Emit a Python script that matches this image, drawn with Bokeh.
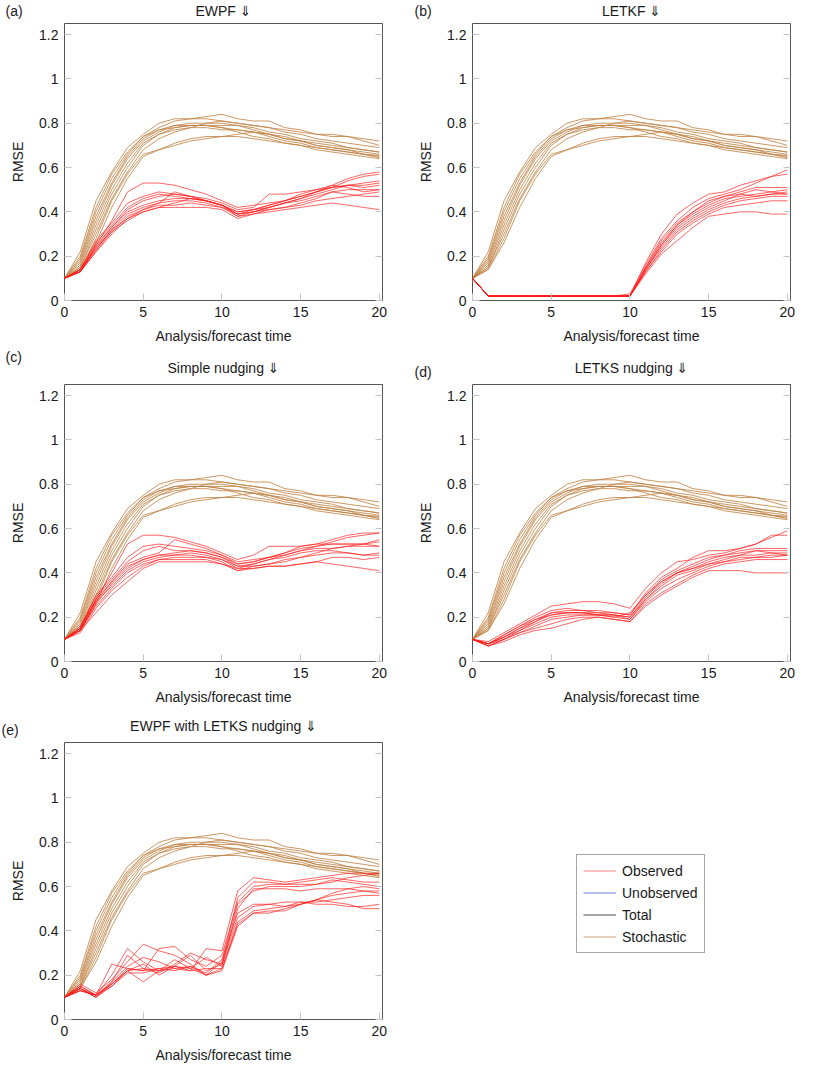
from bokeh.plotting import figure
from bokeh.layouts import column, row
from bokeh.models import FixedTicker, NumeralTickFormatter, LinearAxis, Title, Legend, LegendItem, Spacer
from bokeh.embed import file_html
from bokeh.resources import INLINE

TIME = list(range(21))
X_TICKS = [0, 5, 10, 15, 20]
Y_TICKS = [0, 0.2, 0.4, 0.6, 0.8, 1.0, 1.2]
PANEL_LABELS = ["(a)", "(b)", "(c)", "(d)", "(e)"]
PANEL_TITLES = ["EWPF \u21d3", "LETKF \u21d3", "Simple nudging \u21d3", "LETKS nudging \u21d3",
                "EWPF with LETKS nudging \u21d3"]
LEGEND_LABELS = ["Observed", "Unobserved", "Total", "Stochastic"]
X_LABEL = "Analysis/forecast time"
Y_LABEL = "RMSE"

# Stochastic (brown) runs, identical in every panel
STOCHASTIC = [
    [0.10, 0.22, 0.45, 0.58, 0.69, 0.75, 0.80, 0.82, 0.82, 0.82, 0.81, 0.80, 0.79, 0.78, 0.77, 0.76, 0.75, 0.75, 0.74, 0.73, 0.72],
    [0.10, 0.20, 0.42, 0.57, 0.67, 0.74, 0.78, 0.81, 0.82, 0.83, 0.84, 0.82, 0.81, 0.81, 0.78, 0.77, 0.75, 0.74, 0.74, 0.72, 0.70],
    [0.10, 0.19, 0.40, 0.55, 0.66, 0.74, 0.77, 0.79, 0.80, 0.80, 0.80, 0.79, 0.78, 0.76, 0.75, 0.73, 0.72, 0.71, 0.69, 0.68, 0.67],
    [0.10, 0.18, 0.38, 0.53, 0.65, 0.73, 0.77, 0.78, 0.79, 0.79, 0.79, 0.79, 0.77, 0.75, 0.73, 0.72, 0.70, 0.69, 0.68, 0.67, 0.66],
    [0.10, 0.17, 0.36, 0.52, 0.64, 0.72, 0.76, 0.79, 0.79, 0.79, 0.78, 0.77, 0.76, 0.74, 0.72, 0.71, 0.69, 0.68, 0.67, 0.66, 0.65],
    [0.10, 0.16, 0.34, 0.50, 0.62, 0.71, 0.75, 0.78, 0.79, 0.79, 0.78, 0.76, 0.74, 0.73, 0.71, 0.70, 0.68, 0.67, 0.66, 0.65, 0.64],
    [0.10, 0.15, 0.32, 0.48, 0.60, 0.70, 0.75, 0.77, 0.78, 0.78, 0.77, 0.77, 0.76, 0.75, 0.74, 0.72, 0.71, 0.70, 0.69, 0.68, 0.67],
    [0.10, 0.15, 0.30, 0.46, 0.58, 0.68, 0.73, 0.76, 0.78, 0.80, 0.81, 0.80, 0.79, 0.78, 0.76, 0.75, 0.73, 0.72, 0.71, 0.70, 0.69],
    [0.10, 0.14, 0.28, 0.45, 0.57, 0.66, 0.68, 0.71, 0.73, 0.74, 0.74, 0.75, 0.76, 0.75, 0.73, 0.72, 0.70, 0.69, 0.68, 0.66, 0.645],
    [0.10, 0.14, 0.26, 0.42, 0.55, 0.65, 0.68, 0.70, 0.72, 0.73, 0.74, 0.74, 0.73, 0.72, 0.71, 0.70, 0.69, 0.68, 0.67, 0.66, 0.655],
]

# Observed (red) runs per panel
EWPF_OBS = [
    [0.10, 0.13, 0.25, 0.36, 0.49, 0.53, 0.53, 0.52, 0.50, 0.48, 0.45, 0.42, 0.43, 0.44, 0.45, 0.47, 0.49, 0.52, 0.55, 0.57, 0.58],
    [0.10, 0.14, 0.27, 0.35, 0.44, 0.47, 0.49, 0.48, 0.47, 0.46, 0.44, 0.41, 0.42, 0.48, 0.48, 0.49, 0.50, 0.51, 0.52, 0.53, 0.54],
    [0.10, 0.14, 0.26, 0.34, 0.42, 0.46, 0.48, 0.47, 0.46, 0.45, 0.43, 0.40, 0.41, 0.43, 0.45, 0.47, 0.49, 0.51, 0.54, 0.56, 0.57],
    [0.10, 0.13, 0.25, 0.33, 0.41, 0.45, 0.47, 0.48, 0.47, 0.45, 0.43, 0.39, 0.40, 0.42, 0.44, 0.46, 0.48, 0.50, 0.52, 0.52, 0.53],
    [0.10, 0.13, 0.24, 0.33, 0.40, 0.43, 0.45, 0.46, 0.46, 0.45, 0.43, 0.40, 0.41, 0.42, 0.44, 0.45, 0.47, 0.49, 0.50, 0.50, 0.50],
    [0.10, 0.13, 0.23, 0.32, 0.39, 0.42, 0.44, 0.49, 0.47, 0.45, 0.43, 0.38, 0.40, 0.42, 0.44, 0.46, 0.49, 0.51, 0.52, 0.51, 0.52],
    [0.10, 0.14, 0.24, 0.31, 0.38, 0.41, 0.44, 0.45, 0.45, 0.44, 0.42, 0.39, 0.40, 0.41, 0.42, 0.44, 0.46, 0.49, 0.48, 0.47, 0.47],
    [0.10, 0.13, 0.22, 0.30, 0.37, 0.41, 0.43, 0.43, 0.44, 0.43, 0.42, 0.38, 0.39, 0.41, 0.42, 0.43, 0.45, 0.46, 0.47, 0.48, 0.49],
    [0.10, 0.13, 0.22, 0.31, 0.36, 0.40, 0.42, 0.44, 0.46, 0.45, 0.43, 0.39, 0.41, 0.43, 0.45, 0.48, 0.50, 0.52, 0.51, 0.49, 0.50],
    [0.10, 0.14, 0.23, 0.32, 0.37, 0.40, 0.42, 0.42, 0.42, 0.42, 0.41, 0.37, 0.39, 0.40, 0.41, 0.42, 0.43, 0.44, 0.43, 0.42, 0.41],
]

LETKF_OBS = [
    [0.10, 0.02, 0.02, 0.02, 0.02, 0.02, 0.02, 0.02, 0.02, 0.02, 0.02, 0.17, 0.30, 0.39, 0.44, 0.48, 0.49, 0.52, 0.54, 0.56, 0.57],
    [0.10, 0.02, 0.02, 0.02, 0.02, 0.02, 0.02, 0.02, 0.02, 0.02, 0.03, 0.16, 0.28, 0.36, 0.42, 0.46, 0.48, 0.50, 0.53, 0.56, 0.59],
    [0.10, 0.02, 0.02, 0.02, 0.02, 0.02, 0.02, 0.02, 0.02, 0.02, 0.02, 0.15, 0.27, 0.35, 0.40, 0.44, 0.47, 0.49, 0.51, 0.51, 0.51],
    [0.10, 0.02, 0.02, 0.02, 0.02, 0.02, 0.02, 0.02, 0.02, 0.02, 0.02, 0.15, 0.26, 0.34, 0.39, 0.43, 0.46, 0.47, 0.48, 0.49, 0.50],
    [0.10, 0.02, 0.02, 0.02, 0.02, 0.02, 0.02, 0.02, 0.02, 0.02, 0.02, 0.14, 0.25, 0.33, 0.38, 0.42, 0.45, 0.48, 0.50, 0.49, 0.48],
    [0.10, 0.02, 0.02, 0.02, 0.02, 0.02, 0.02, 0.02, 0.02, 0.02, 0.02, 0.14, 0.24, 0.32, 0.37, 0.41, 0.44, 0.46, 0.47, 0.48, 0.48],
    [0.10, 0.02, 0.02, 0.02, 0.02, 0.02, 0.02, 0.02, 0.02, 0.02, 0.02, 0.13, 0.23, 0.31, 0.36, 0.40, 0.43, 0.45, 0.46, 0.47, 0.47],
    [0.10, 0.02, 0.02, 0.02, 0.02, 0.02, 0.02, 0.02, 0.02, 0.02, 0.02, 0.13, 0.22, 0.30, 0.35, 0.39, 0.42, 0.43, 0.44, 0.45, 0.45],
    [0.10, 0.02, 0.02, 0.02, 0.02, 0.02, 0.02, 0.02, 0.02, 0.02, 0.02, 0.12, 0.21, 0.27, 0.33, 0.38, 0.39, 0.40, 0.40, 0.39, 0.39],
    [0.10, 0.02, 0.02, 0.02, 0.02, 0.02, 0.02, 0.02, 0.02, 0.02, 0.02, 0.14, 0.25, 0.34, 0.40, 0.45, 0.47, 0.48, 0.47, 0.48, 0.49],
]

SIMPLE_OBS = [
    [0.10, 0.15, 0.28, 0.40, 0.53, 0.57, 0.57, 0.56, 0.54, 0.52, 0.49, 0.46, 0.48, 0.52, 0.52, 0.52, 0.53, 0.53, 0.53, 0.53, 0.54],
    [0.10, 0.15, 0.30, 0.38, 0.47, 0.52, 0.53, 0.52, 0.51, 0.50, 0.48, 0.45, 0.46, 0.47, 0.48, 0.50, 0.52, 0.54, 0.56, 0.57, 0.58],
    [0.10, 0.16, 0.29, 0.37, 0.45, 0.50, 0.52, 0.50, 0.50, 0.49, 0.47, 0.44, 0.45, 0.47, 0.49, 0.51, 0.52, 0.53, 0.53, 0.53, 0.52],
    [0.10, 0.14, 0.27, 0.36, 0.44, 0.47, 0.49, 0.55, 0.53, 0.51, 0.48, 0.44, 0.45, 0.47, 0.49, 0.52, 0.53, 0.55, 0.57, 0.58, 0.58],
    [0.10, 0.15, 0.28, 0.36, 0.43, 0.46, 0.48, 0.49, 0.50, 0.49, 0.47, 0.43, 0.44, 0.46, 0.48, 0.50, 0.51, 0.51, 0.52, 0.52, 0.52],
    [0.10, 0.14, 0.26, 0.35, 0.42, 0.46, 0.48, 0.48, 0.49, 0.48, 0.46, 0.42, 0.44, 0.46, 0.47, 0.49, 0.50, 0.50, 0.49, 0.48, 0.49],
    [0.10, 0.15, 0.27, 0.34, 0.41, 0.45, 0.47, 0.48, 0.48, 0.47, 0.46, 0.43, 0.43, 0.44, 0.45, 0.47, 0.49, 0.51, 0.52, 0.53, 0.55],
    [0.10, 0.14, 0.25, 0.33, 0.40, 0.44, 0.46, 0.47, 0.47, 0.47, 0.45, 0.41, 0.43, 0.44, 0.46, 0.47, 0.48, 0.49, 0.49, 0.48, 0.48],
    [0.10, 0.13, 0.24, 0.32, 0.38, 0.43, 0.46, 0.46, 0.46, 0.46, 0.44, 0.42, 0.42, 0.43, 0.43, 0.44, 0.45, 0.47, 0.47, 0.46, 0.47],
    [0.10, 0.14, 0.22, 0.30, 0.36, 0.42, 0.45, 0.45, 0.45, 0.45, 0.44, 0.41, 0.42, 0.43, 0.43, 0.44, 0.45, 0.44, 0.43, 0.42, 0.41],
]

LETKS_OBS = [
    [0.10, 0.09, 0.13, 0.17, 0.21, 0.25, 0.26, 0.27, 0.27, 0.26, 0.24, 0.33, 0.40, 0.45, 0.46, 0.48, 0.49, 0.51, 0.53, 0.56, 0.59],
    [0.10, 0.08, 0.12, 0.16, 0.20, 0.23, 0.24, 0.23, 0.23, 0.22, 0.21, 0.31, 0.38, 0.42, 0.47, 0.50, 0.50, 0.51, 0.53, 0.57, 0.57],
    [0.10, 0.08, 0.12, 0.16, 0.19, 0.22, 0.23, 0.23, 0.22, 0.22, 0.21, 0.30, 0.37, 0.41, 0.44, 0.47, 0.48, 0.50, 0.51, 0.51, 0.51],
    [0.10, 0.08, 0.11, 0.15, 0.19, 0.21, 0.22, 0.22, 0.22, 0.21, 0.20, 0.29, 0.36, 0.40, 0.43, 0.46, 0.48, 0.49, 0.50, 0.50, 0.50],
    [0.10, 0.08, 0.11, 0.14, 0.18, 0.21, 0.22, 0.22, 0.21, 0.21, 0.20, 0.28, 0.35, 0.40, 0.42, 0.45, 0.47, 0.48, 0.50, 0.49, 0.49],
    [0.10, 0.07, 0.10, 0.14, 0.17, 0.20, 0.21, 0.21, 0.21, 0.21, 0.19, 0.28, 0.34, 0.39, 0.41, 0.44, 0.45, 0.47, 0.47, 0.48, 0.48],
    [0.10, 0.07, 0.10, 0.13, 0.16, 0.19, 0.20, 0.21, 0.21, 0.20, 0.19, 0.27, 0.33, 0.37, 0.40, 0.43, 0.45, 0.46, 0.47, 0.47, 0.48],
    [0.10, 0.08, 0.10, 0.13, 0.15, 0.17, 0.19, 0.20, 0.20, 0.19, 0.18, 0.26, 0.31, 0.35, 0.39, 0.42, 0.44, 0.45, 0.46, 0.46, 0.46],
    [0.10, 0.07, 0.09, 0.12, 0.14, 0.15, 0.17, 0.19, 0.20, 0.19, 0.18, 0.25, 0.30, 0.34, 0.38, 0.41, 0.41, 0.41, 0.40, 0.40, 0.40],
    [0.10, 0.08, 0.11, 0.15, 0.18, 0.22, 0.22, 0.22, 0.21, 0.20, 0.22, 0.30, 0.36, 0.40, 0.42, 0.44, 0.46, 0.48, 0.48, 0.49, 0.48],
]

EWPF_LETKS_OBS = [
    [0.10, 0.15, 0.11, 0.20, 0.32, 0.26, 0.22, 0.24, 0.22, 0.32, 0.31, 0.58, 0.64, 0.63, 0.62, 0.63, 0.64, 0.65, 0.66, 0.66, 0.66],
    [0.10, 0.16, 0.12, 0.18, 0.26, 0.34, 0.31, 0.29, 0.25, 0.20, 0.26, 0.55, 0.62, 0.62, 0.61, 0.62, 0.63, 0.64, 0.63, 0.62, 0.62],
    [0.10, 0.14, 0.11, 0.25, 0.23, 0.22, 0.32, 0.33, 0.27, 0.24, 0.29, 0.53, 0.60, 0.61, 0.61, 0.61, 0.61, 0.63, 0.62, 0.61, 0.60],
    [0.10, 0.14, 0.10, 0.17, 0.29, 0.23, 0.21, 0.25, 0.30, 0.27, 0.25, 0.52, 0.58, 0.60, 0.60, 0.60, 0.61, 0.62, 0.64, 0.65, 0.66],
    [0.10, 0.13, 0.11, 0.16, 0.22, 0.17, 0.22, 0.27, 0.23, 0.28, 0.24, 0.50, 0.59, 0.59, 0.59, 0.58, 0.59, 0.59, 0.59, 0.58, 0.57],
    [0.10, 0.15, 0.11, 0.17, 0.24, 0.28, 0.26, 0.23, 0.24, 0.21, 0.27, 0.48, 0.52, 0.52, 0.51, 0.52, 0.54, 0.57, 0.59, 0.60, 0.59],
    [0.10, 0.14, 0.10, 0.16, 0.22, 0.25, 0.20, 0.24, 0.29, 0.22, 0.25, 0.46, 0.51, 0.52, 0.53, 0.53, 0.53, 0.54, 0.55, 0.56, 0.56],
    [0.10, 0.13, 0.11, 0.15, 0.21, 0.21, 0.23, 0.22, 0.24, 0.20, 0.23, 0.44, 0.49, 0.50, 0.51, 0.53, 0.52, 0.52, 0.51, 0.51, 0.52],
    [0.10, 0.14, 0.10, 0.15, 0.22, 0.23, 0.22, 0.23, 0.22, 0.23, 0.23, 0.43, 0.48, 0.49, 0.49, 0.52, 0.54, 0.53, 0.52, 0.50, 0.50],
    [0.10, 0.13, 0.11, 0.16, 0.23, 0.22, 0.23, 0.24, 0.23, 0.20, 0.22, 0.42, 0.48, 0.48, 0.50, 0.52, 0.54, 0.56, 0.57, 0.58, 0.58],
]

OBSERVED = [EWPF_OBS, LETKF_OBS, SIMPLE_OBS, LETKS_OBS, EWPF_LETKS_OBS]

RED = "#ff1a1a"
BLUE = "#2a4fd0"
BLACK = "#222222"
BROWN = "#bf8040"
FONT = "Liberation Sans"
TITLE_FONT = "'Liberation Sans', 'DejaVu Sans'"
TXT = "#1a1a1a"
FW, FH = 318, 277

# panel figure borders: (left, right, top, bottom)
BORDERS = [
    (64, 18, 3, 44),
    (72, 8, 3, 44),
    (64, 18, 3, 44),
    (72, 8, 3, 44),
    (64, 18, 3, 45),
]
HEADER_H = [20, 35, 32]
# header text cells: (label x offset, label top pad, title top pad)
HEADER = [
    (5, 0, 0),
    (14, 0, 0),
    (5, 0, 11),
    (14, 15, 11),
    (1, 12, 8),
]


def tick_axis_style(ax):
    ax.axis_line_color = None
    ax.major_tick_in = 7
    ax.major_tick_out = 0
    ax.minor_tick_line_color = None
    ax.major_tick_line_color = "#c4c4c4"


def make_panel(i):
    bl, br, bt, bb = BORDERS[i]
    p = figure(frame_width=FW, frame_height=FH, x_range=(0, 20.2), y_range=(0, 1.25),
               output_backend="svg", toolbar_location=None, title=None,
               min_border_left=bl, min_border_right=br, min_border_top=bt, min_border_bottom=bb)
    p.grid.visible = False
    p.outline_line_color = "#555555"
    p.outline_line_width = 1
    p.background_fill_color = "white"
    p.border_fill_color = "white"

    for ax in (p.xaxis[0], p.yaxis[0]):
        tick_axis_style(ax)
        ax.major_label_text_font = FONT
        ax.major_label_text_font_size = "14px"
        ax.major_label_text_color = TXT
        ax.axis_label_text_font = FONT
        ax.axis_label_text_font_size = "14px"
        ax.axis_label_text_font_style = "normal"
        ax.axis_label_text_color = TXT
        ax.major_label_standoff = 6
    p.xaxis[0].ticker = FixedTicker(ticks=X_TICKS)
    p.yaxis[0].ticker = FixedTicker(ticks=Y_TICKS)
    p.yaxis[0].formatter = NumeralTickFormatter(format="0.[0]")
    p.xaxis[0].axis_label = X_LABEL
    p.yaxis[0].axis_label = Y_LABEL
    p.xaxis[0].axis_label_standoff = 8
    p.yaxis[0].axis_label_standoff = 10

    ax = LinearAxis(ticker=FixedTicker(ticks=Y_TICKS))
    tick_axis_style(ax)
    ax.major_label_overrides = {t: "" for t in Y_TICKS}
    ax.major_label_standoff = 0
    p.add_layout(ax, "right")

    p.multi_line(xs=[TIME] * len(STOCHASTIC), ys=STOCHASTIC, line_color=BROWN,
                 line_width=0.9, line_alpha=0.9)
    obs = OBSERVED[i]
    p.multi_line(xs=[TIME] * len(obs), ys=obs, line_color=RED, line_width=0.9, line_alpha=0.75)
    return p


def text_cell(text, width, border_right, pad, total_h, align, offset):
    f = figure(width=width, height=total_h - pad, output_backend="svg", toolbar_location=None,
               title=None, x_axis_location=None, y_axis_location=None, x_range=(0, 1), y_range=(0, 1),
               min_border_left=0, min_border_right=border_right,
               min_border_top=0, min_border_bottom=0)
    f.grid.visible = False
    f.outline_line_color = None
    t = Title(text=text, align=align, offset=offset, standoff=0, vertical_align="bottom")
    t.text_font = TITLE_FONT
    t.text_font_size = "14px"
    t.text_font_style = "normal"
    t.text_color = TXT
    f.add_layout(t, "above")
    if pad > 0:
        return column(Spacer(width=width, height=pad), f)
    return column(f)


def header_parts(i, left_col):
    lab_off, lab_pad, title_pad = HEADER[i]
    hh = HEADER_H[i // 2]
    if left_col:
        lab_w, title_br = 64, 18
    else:
        lab_w, title_br = 72, 8
    lab = text_cell(PANEL_LABELS[i], lab_w, 0, lab_pad, hh, "left", lab_off)
    ttl = text_cell(PANEL_TITLES[i], FW + title_br, title_br, title_pad, hh, "center", 0)
    return [lab, ttl]


panels = [make_panel(i) for i in range(5)]

# legend-only figure
leg = figure(width=398, height=HEADER_H[2] + 325, x_range=(0, 1), y_range=(0, 1),
             output_backend="svg", toolbar_location=None, min_border=0,
             x_axis_location=None, y_axis_location=None)
leg.grid.visible = False
leg.outline_line_color = None
colors = [RED, BLUE, BLACK, BROWN]
alphas = [0.55, 0.7, 0.8, 0.75]
items = []
for lab, c, a in zip(LEGEND_LABELS, colors, alphas):
    r = leg.line(x=[2, 3], y=[2, 3], line_color=c, line_width=1.0, line_alpha=a)
    items.append(LegendItem(label=lab, renderers=[r]))
legend = Legend(items=items, location=(176, 111))
legend.label_text_font = FONT
legend.label_text_font_size = "14px"
legend.label_text_color = TXT
legend.glyph_width = 33
legend.glyph_height = 19
legend.label_height = 19
legend.label_standoff = 6
legend.spacing = 3
legend.padding = 6
legend.margin = 0
legend.border_line_color = "#4d4d4d"
legend.border_line_width = 1
legend.background_fill_alpha = 1
leg.add_layout(legend)

layout = column(
    row(*header_parts(0, True), *header_parts(1, False)),
    row(panels[0], panels[1]),
    row(*header_parts(2, True), *header_parts(3, False)),
    row(panels[2], panels[3]),
    row(column(row(*header_parts(4, True)), panels[4]), leg),
)

open("out.html", "w").write(file_html(layout, INLINE))
